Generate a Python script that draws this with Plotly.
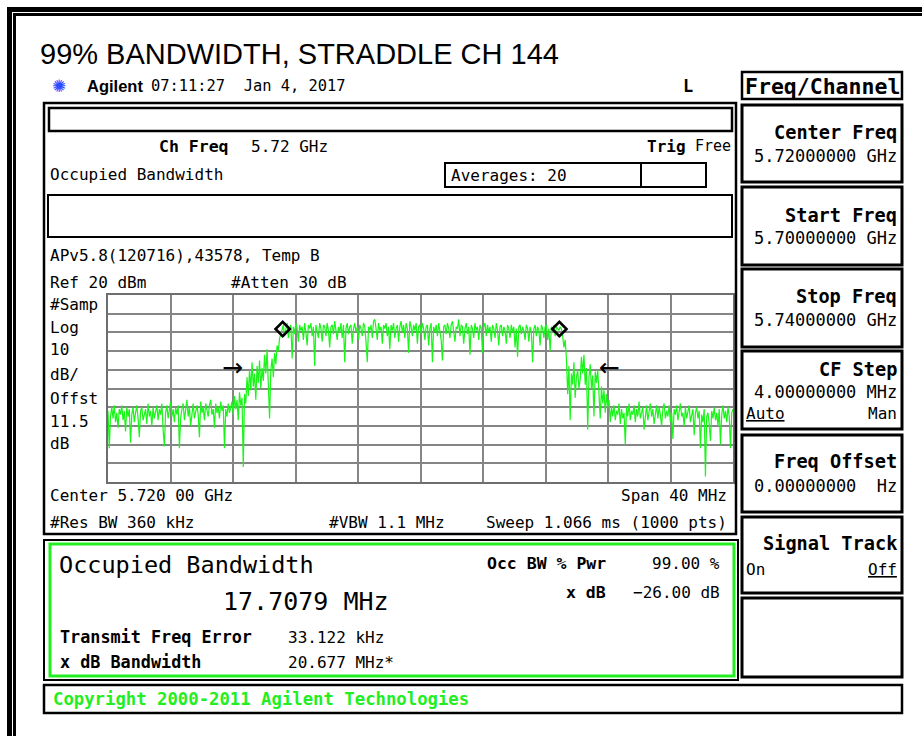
import numpy as np
import plotly.graph_objects as go

W, H = 922, 736

# ---- measurement settings ----
start_ghz, stop_ghz = 5.70, 5.74
ref_dbm, db_per_div = 20, 10
center_mhz = 5720.0
freq_error_mhz = 0.033122
obw_mhz = 17.7079
xdb_bw_mhz = 20.677
xdb_level = -26.0
obw_marker_dbm = 1.8

# ---- trace levels (dBm), sweep from start to stop ----
noise_low = [-42, -62, -45, -40, -46, -39, -48, -43, -51, -41,
             -44, -39, -47, -42, -53, -40, -45, -41, -59, -44,
             -40, -48, -43, -39, -46, -56, -42, -40, -47, -44,
             -41, -49, -38, -45, -42, -50, -40, -46, -43, -39,
             -47, -41, -44, -38, -52, -61, -43, -39, -46, -42,
             -37, -45, -41, -48, -40, -44, -39, -62, -46, -41,
             -38, -47, -42, -36, -45, -40, -50, -43, -38, -46,
             -41, -39, -44, -56, -37, -43, -40, -47, -38, -42,
             -45, -39, -36, -44, -41, -51, -38, -43, -40, -46,
             -37, -42, -39, -62, -41, -45, -38, -43, -40]
rise = [-37, -44, -34, -41, -36, -47, -32, -39, -35, -72, -33,
        -38, -24, -34, -20, -31, -16, -29, -22, -36, -18, -27, -15, -30, -19,
        -26, -12, -22, -9, -28, -46, -20, -14, -24, -11, -17, -7, -10, -3, -1]
plateau = [1, 4, -2, 3, 5, -3, 2, 4, -14, 3, -1, 5, 2, -5, 4, 1,
           3, -4, 5, 0, -7, 4, 2, 5, -2, 3, -18, 4, 1, -3, 5, 2,
           -5, 4, 3, -2, 5, 1, -8, 3, 4, -1, 6, 2, -4, 3, 0, 5,
           -3, 4, -16, 2, 5, -1, 3, 4, -6, 2, 5, 0, 3, -4, 4, 2,
           -2, 5, 3, -5, -16, 3, 1, 4, -3, 6, 7, 2, -4, 5, 1, 3,
           -6, 4, 2, 5, -2, 3, -9, 4, 1, 5, -3, 2, 4, -5, 3, 6,
           0, 4, -3, 5, 2, -11, 6, 3, -2, 4, 1, 5, -6, 3, 4, -1,
           5, 2, -4, 3, 4, -7, 2, 5, -16, 3, 0, 4, -2, 5, 1, -4,
           -15, 3, 4, -1, 5, 2, -3, 4, 6, 1, -5, 3, 2, 7, -2, 4,
           3, -6, 2, 5, -1, 3, -12, 4, 2, -3, 5, 1, 3, -4, 4, 2,
           -11, 3, 5, -2, 4, 0, 3, -5, 4, 2, -3, 5, 1, -7, 3, 4,
           -2, 3, 1, -6, 4, 2, -3, 4, 0, 3, -8, 2, -13, 3, 4, -1,
           3, 1, -4, 4, 2, -5, 3, 0, -16, 2, 4, -2, 3, 1, -7, 4,
           2, -3, 3, 4, -4, 2, -10, 3, 1, 4, -2, 3, 2, 1, 3, 2]
fall = [-2, -8, -4, -14,
        -33, -18, -47, -22, -28, -16, -35, -24, -20, -30, -25,
        -13, -22, -12, -28, -19, -52, -24, -17, -30, -23, -45, -21, -27,
        -20, -34, -46, -29, -38, -31, -43, -33, -40, -36]
noise_high = [-48, -40, -45, -39, -47, -42, -44, -38, -49, -41,
              -46, -43, -60, -40, -45, -38, -47, -42, -44, -39,
              -48, -41, -45, -37, -46, -43, -40, -52, -44, -39,
              -47, -42, -38, -45, -41, -49, -43, -39, -46, -40,
              -44, -50, -41, -38, -46, -42, -45, -39, -48, -43,
              -57, -41, -44, -39, -47, -42, -38, -45, -43, -50,
              -40, -46, -42, -39, -48, -44, -41, -55, -43, -40,
              -46, -42, -62, -44, -48, -41, -77, -45, -43, -49,
              -58, -42, -46, -40, -47, -43, -50, -41, -60, -44,
              -39, -46, -42, -48, -40, -45, -62, -43, -41]

level = noise_low + rise + plateau + fall + noise_high
freq = np.linspace(start_ghz, stop_ghz, len(level))

# occupied-bandwidth edges and x-dB points
f0 = center_mhz + freq_error_mhz
obw_edges = [(f0 - obw_mhz / 2) / 1000, (f0 + obw_mhz / 2) / 1000]
xdb_edges = [(f0 - xdb_bw_mhz / 2) / 1000, (f0 + xdb_bw_mhz / 2) / 1000]
xdb_dbm = max(level) + xdb_level

MONO = "DejaVu Sans Mono"
SANS = "Liberation Sans, Arial, sans-serif"


def px(x):
    return x / W


def py(y):
    return 1 - y / H


fig = go.Figure()
fig.add_trace(go.Scatter(x=freq, y=level, mode="lines",
                         line=dict(color="#19f519", width=1.2),
                         hoverinfo="skip", showlegend=False))
fig.add_trace(go.Scatter(x=obw_edges, y=[obw_marker_dbm] * 2, mode="markers",
                         marker=dict(symbol="diamond-open", size=11, color="#000",
                                     line=dict(width=2.6, color="#000")),
                         hoverinfo="skip", showlegend=False))

shapes = []


def box(x0, y0, x1, y1, color="#000", width=2.5):
    shapes.append(dict(type="rect", xref="paper", yref="paper",
                       x0=px(x0), x1=px(x1), y0=py(y1), y1=py(y0),
                       line=dict(color=color, width=width), layer="above"))


# outer frame: double rule along the left and top edges
# (the right and bottom sides of these rectangles fall off the page)
box(9.5, 9.5, W + 60, H + 60, width=5)
box(14.5, 14.5, W + 60, H + 60, width=3)

# analyzer display panel
box(44, 103, 736, 534, width=2.5)
box(49, 108, 732, 131, width=2.5)
box(445, 163, 641, 187, width=2)
box(641, 163, 706, 187, width=2)
box(48, 195, 732, 237, width=2)

# result panel
box(44, 540, 738, 680, width=2)
box(50, 544, 734, 676, color="#22ee22", width=3)
box(44, 685, 902, 713, width=2.5)

# softkey column
box(742, 72, 902, 99, width=2.5)
for top, bottom in [(105, 182), (187, 265), (269, 347), (351, 429),
                    (435, 512), (517, 593), (598, 677)]:
    box(742, top, 902, bottom, width=3)

ann = []


def T(x, y, s, size, bold=False, anchor="left", color="#000", family=MONO):
    if bold:
        s = "<b>" + s + "</b>"
    ann.append(dict(x=px(x), y=py(y), xref="paper", yref="paper", text=s,
                    showarrow=False, xanchor=anchor, yanchor="middle",
                    borderpad=0, font=dict(family=family, size=size, color=color)))


# header
T(39, 54, "99% BANDWIDTH, STRADDLE CH 144", 29, family=SANS)
T(59, 86, "✺", 17, anchor="center", color="#2b4cff", family="DejaVu Sans")
T(86, 86, "Agilent", 16.5, bold=True, family=SANS)
T(150, 86, "07:11:27  Jan 4, 2017", 15.4)
T(688, 86, "L", 17, bold=True, anchor="center")
T(744, 86, "Freq/Channel", 21.5, bold=True)

# display panel text
T(158, 146, "Ch Freq", 16.5, bold=True)
T(250, 146, "5.72 GHz", 16)
T(687, 146, "Trig", 16, bold=True, anchor="right")
T(694, 146, "Free", 15)
T(49, 174, "Occupied Bandwidth", 16)
T(450, 175, "Averages: 20", 16)
T(49, 255, "APv5.8(120716),43578, Temp B", 16)
T(49, 282, "Ref 20 dBm", 16)
T(230, 282, "#Atten 30 dB", 16)
for yy, s in [(304, "#Samp"), (327, "Log"), (349, "10"), (374, "dB/"),
              (398, "Offst"), (421, "11.5"), (443, "dB")]:
    T(49, yy, s, 16)
T(49, 495, "Center 5.720 00 GHz", 16)
T(728, 495, "Span 40 MHz", 16, anchor="right")
T(49, 522, "#Res BW 360 kHz", 16)
T(328, 522, "#VBW 1.1 MHz", 16)
T(728, 522, "Sweep 1.066 ms (1000 pts)", 16, anchor="right")

# result panel text
T(58, 565, "Occupied Bandwidth", 23.5)
T(222, 601, "17.7079 MHz", 25)
T(607, 563, "Occ BW % Pwr", 16.5, bold=True, anchor="right")
T(721, 563, "99.00 %", 16, anchor="right")
T(607, 592, "x dB", 16.5, bold=True, anchor="right")
T(721, 592, "−26.00 dB", 16, anchor="right")
T(59, 637, "Transmit Freq Error", 16.8, bold=True)
T(287, 637, "33.122 kHz", 16)
T(59, 662, "x dB Bandwidth", 16.8, bold=True)
T(287, 662, "20.677 MHz*", 16)
T(52, 699, "Copyright 2000-2011 Agilent Technologies", 17.3, bold=True, color="#22ee22")

# softkey text
keys = [(105, "Center Freq", "5.72000000 GHz"),
        (187, "Start Freq", "5.70000000 GHz"),
        (269, "Stop Freq", "5.74000000 GHz")]
for top, label, value in keys:
    T(898, top + 28, label, 18.6, bold=True, anchor="right")
    T(898, top + 51, value, 17, anchor="right")
T(898, 370, "CF Step", 18.6, bold=True, anchor="right")
T(898, 392, "4.00000000 MHz", 17, anchor="right")
T(745, 413, "<u>Auto</u>", 16)
T(898, 413, "Man", 16, anchor="right")
T(898, 462, "Freq Offset", 18.6, bold=True, anchor="right")
T(898, 486, "0.00000000  Hz", 17, anchor="right")
T(898, 543, "Signal Track", 18.6, bold=True, anchor="right")
T(745, 569, "On", 16)
T(898, 569, "<u>Off</u>", 16, anchor="right")

# x-dB bandwidth arrows
ann.append(dict(x=xdb_edges[0], y=xdb_dbm, xref="x", yref="y", text="→",
                showarrow=False, xanchor="right", yanchor="middle", xshift=-14,
                font=dict(family="DejaVu Sans", size=25, color="#000")))
ann.append(dict(x=xdb_edges[1], y=xdb_dbm, xref="x", yref="y", text="←",
                showarrow=False, xanchor="left", yanchor="middle", xshift=14,
                font=dict(family="DejaVu Sans", size=25, color="#000")))

fig.update_layout(
    width=W, height=H, margin=dict(l=0, r=0, t=0, b=0),
    paper_bgcolor="#fff", plot_bgcolor="#fff",
    shapes=shapes, annotations=ann, showlegend=False,
    xaxis=dict(domain=[px(108), px(733)], range=[start_ghz, stop_ghz],
               dtick=(stop_ghz - start_ghz) / 10, tick0=start_ghz,
               showticklabels=False, ticks="", zeroline=False,
               showgrid=True, gridcolor="#858585", gridwidth=1.6,
               showline=True, linecolor="#6e6e6e", linewidth=2.2, mirror=True,
               fixedrange=True),
    yaxis=dict(domain=[py(482), py(295)],
               range=[ref_dbm - 10 * db_per_div, ref_dbm],
               dtick=db_per_div, tick0=ref_dbm,
               showticklabels=False, ticks="", zeroline=False,
               showgrid=True, gridcolor="#858585", gridwidth=1.6,
               showline=True, linecolor="#6e6e6e", linewidth=2.2, mirror=True,
               fixedrange=True),
)

fig.write_html("out.html", config={"displayModeBar": False})
